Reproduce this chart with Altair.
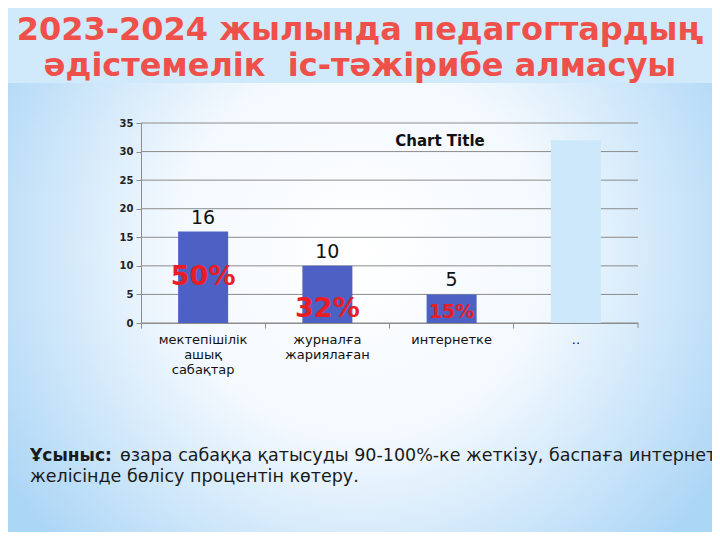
import pandas as pd
import altair as alt

categories = ["мектепішілік ашық сабақтар", "журналға жариялаған", "интернетке", ".."]
values = [16, 10, 5, 32]
value_labels = ["16", "10", "5", ""]
shares = ["50%", "32%", "15%", ""]
y_ticks = [0, 5, 10, 15, 20, 25, 30, 35]

title_lines = ["2023-2024 жылында педагогтардың", "әдістемелік \u00a0іс-тәжірибе алмасуы"]
note_bold = "Ұсыныс:"
note_rest = "өзара сабаққа қатысуды 90-100%-ке жеткізу, баспаға интернет"
note_line2 = "желісінде бөлісу процентін көтеру."

W, H = 497, 200
PAD = {"left": 133, "top": 115, "right": 74, "bottom": 209}
FONT = "DejaVu Sans"

df = pd.DataFrame({"cat": categories, "value": values,
                   "label": value_labels, "share": shares})
one = pd.DataFrame({"k": [0]})
grid = pd.DataFrame({"v": y_ticks})

x_axis = alt.Axis(labelAngle=0, bandPosition=0, zindex=1,
                  labelExpr="split(datum.label, ' ')",
                  labelFont=FONT, labelFontSize=13, labelColor="#111",
                  labelLineHeight=15, labelPadding=5,
                  domainColor="#8c8c8c", tickColor="#8c8c8c", tickSize=5)
y_axis = alt.Axis(values=y_ticks, grid=False, zindex=1, labelOverlap=False,
                  labelFont=FONT, labelFontSize=10, labelFontWeight="bold",
                  labelColor="#222", labelPadding=3,
                  domainColor="#8c8c8c", tickColor="#8c8c8c", tickSize=5)
x_scale = alt.Scale(paddingInner=0, paddingOuter=0)
y_scale = alt.Scale(domain=[0, 35], nice=False)

x_enc = alt.X("cat:N", sort=categories, title=None, scale=x_scale, axis=x_axis)
y_enc = alt.Y("value:Q", scale=y_scale, title=None, axis=y_axis)

# slide background
band = alt.Chart(one).mark_rect(color="#d0e9fb").encode(
    x=alt.value(-PAD["left"]), x2=alt.value(W + PAD["right"]),
    y=alt.value(-PAD["top"]), y2=alt.value(-40))
glow = alt.Chart(one).mark_rect(
    color=alt.Gradient(
        gradient="radial", x1=0.5, y1=0.42, x2=0.5, y2=0.42, r1=0, r2=0.6,
        stops=[alt.GradientStop(color="#ffffff", offset=0),
               alt.GradientStop(color="#f3f9fe", offset=0.45),
               alt.GradientStop(color="#acd6f6", offset=1)])
).encode(
    x=alt.value(-PAD["left"]), x2=alt.value(W + PAD["right"]),
    y=alt.value(-40), y2=alt.value(H + PAD["bottom"]))

gridlines = alt.Chart(grid).mark_rule(color="#8c8c8c", strokeWidth=1).encode(
    y=alt.Y("v:Q", scale=y_scale, title=None, axis=y_axis), x=alt.value(0), x2=alt.value(W))

base = alt.Chart(df)
bars = base.mark_bar(size=50).encode(
    x=x_enc, y=y_enc,
    color=alt.Color("cat:N", legend=None,
                    scale=alt.Scale(domain=categories,
                                    range=["#4d61c4", "#4d61c4", "#4d61c4", "#cce8fa"])))

val_text = base.mark_text(font=FONT, fontSize=19, color="#111", baseline="bottom", dy=-4).encode(
    x=x_enc, y=y_enc, text="label:N")

def share_layer(cat, size, dy):
    return base.transform_filter(alt.datum.cat == cat).transform_calculate(
        mid="datum.value / 2").mark_text(
        font=FONT, fontSize=size, fontWeight="bold", color="#ea1c24", baseline="middle", dy=dy
    ).encode(x=x_enc, y=alt.Y("mid:Q", scale=y_scale, title=None, axis=y_axis), text="share:N")

shares_big = share_layer(categories[0], 27, 0)
shares_mid = share_layer(categories[1], 27, 15)
shares_small = share_layer(categories[2], 19, 3)

chart_title = alt.Chart(one).mark_text(
    text="Chart Title", font=FONT, fontSize=15, fontWeight="bold", color="#111"
).encode(x=alt.value(299), y=alt.value(18))

title1 = alt.Chart(one).mark_text(
    text=title_lines[0], font=FONT, fontSize=32, fontWeight="bold", color="#f0504a"
).encode(x=alt.value(360 - 141), y=alt.value(30 - 123))
title2 = alt.Chart(one).mark_text(
    text=title_lines[1], font=FONT, fontSize=32, fontWeight="bold", color="#f0504a"
).encode(x=alt.value(360 - 141), y=alt.value(66 - 123))

note1a = alt.Chart(one).mark_text(
    text=note_bold, font=FONT, fontSize=17, fontWeight="bold", color="#1a1a1a", align="left"
).encode(x=alt.value(30 - 141), y=alt.value(456 - 123))
note1b = alt.Chart(one).mark_text(
    text=note_rest, font=FONT, fontSize=17.5, color="#1a1a1a", align="left"
).encode(x=alt.value(120 - 141), y=alt.value(456 - 123))
note2 = alt.Chart(one).mark_text(
    text=note_line2, font=FONT, fontSize=17.5, color="#1a1a1a", align="left"
).encode(x=alt.value(30 - 141), y=alt.value(477 - 123))

right_tick = alt.Chart(one).mark_rule(color="#8c8c8c").encode(
    x=alt.value(W), y=alt.value(H), y2=alt.value(H + 5))

chart = alt.layer(
    band, glow, gridlines, bars, val_text, shares_big, shares_mid, shares_small,
    chart_title, title1, title2, note1a, note1b, note2, right_tick
).properties(
    width=W, height=H, autosize=alt.AutoSizeParams(type="none"), padding=PAD
).configure_view(stroke=None).configure_axis(labelOverlap=False).configure(background="#d0e9fb")

chart.save("out.html", embed_options={"renderer": "svg", "actions": False})
